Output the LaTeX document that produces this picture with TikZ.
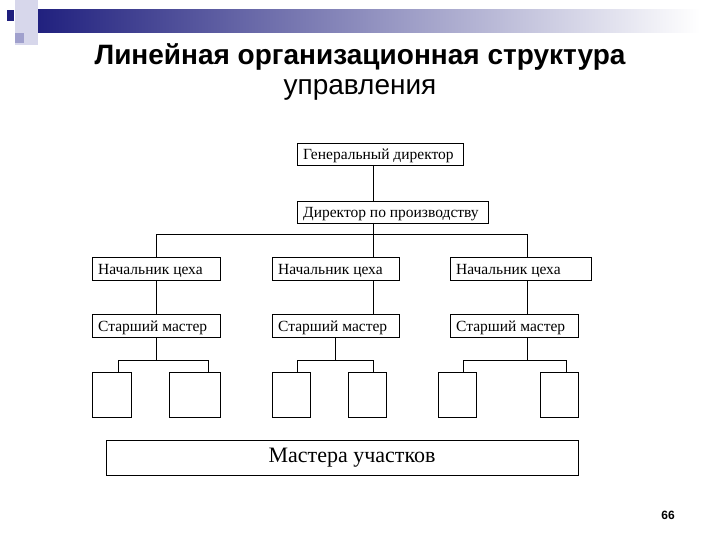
\documentclass[tikz,border=0pt]{standalone}
\usepackage{fontspec}
\setmainfont{Liberation Serif}
\newfontfamily\titlefont{Liberation Sans}
\definecolor{dkblue}{RGB}{30,30,125}
\definecolor{pale}{RGB}{215,215,235}
\definecolor{lav}{RGB}{160,160,205}
\begin{document}
\begin{tikzpicture}[x=1pt,y=-1pt,
  bx/.style={draw,line width=0.8pt},
  lbl/.style={anchor=west,font=\fontsize{15.5}{17}\selectfont,inner sep=0pt},
  ln/.style={line width=0.8pt}]
\useasboundingbox (0,0) rectangle (720,540);
\fill[white] (0,0) rectangle (720,540);
% decoration
\shade[left color=dkblue,right color=white] (30,10) rectangle (700,33);
\fill[pale] (15,0) rectangle (38,45);
\fill[lav] (15,33) rectangle (24,43);
\fill[dkblue] (7,10) rectangle (14,21);
% title
\node[font=\titlefont\bfseries\fontsize{28}{32}\selectfont] (t1) at (360,57) {Линейная организационная структура};
\node[font=\titlefont\fontsize{28}{32}\selectfont] (t2) at (360,90) {управления};
\node[font=\titlefont\bfseries\fontsize{12}{14}\selectfont] (pg) at (668,515) {66};
% boxes
\draw[bx] (297,143) rectangle (463,165); \node[lbl] (gt) at (303,156) {Генеральный директор};
\draw[bx] (297,201) rectangle (488,223); \node[lbl] (dt) at (303,214) {Директор по производству};
\foreach \a/\b/\n in {92/220/l,272/399/m,450/591/r}{
  \draw[bx] (\a,257) rectangle (\b,280); \node[lbl] (n\n) at (\a+6,271) {Начальник цеха};}
\foreach \a/\b/\n in {92/220/l,272/399/m,450/578/r}{
  \draw[bx] (\a,314) rectangle (\b,337); \node[lbl] (s\n) at (\a+6,328) {Старший мастер};}
\foreach \a/\b in {92/131,169/220,272/310,348/386,438/476,540/578}
  \draw[bx] (\a,372) rectangle (\b,417);
\draw[bx] (106,440) rectangle (578,475);
\node[font=\fontsize{22}{26}\selectfont] (mt) at (352,458) {Мастера участков};
% connectors
\draw[ln] (373,165) -- (373,201);
\draw[ln] (373,223) -- (373,257);
\draw[ln] (156,257) -- (156,234) -- (527,234) -- (527,257);
\foreach \x in {156,373,527} \draw[ln] (\x,280) -- (\x,314);
\draw[ln] (156,337) -- (156,360); \draw[ln] (118,372) -- (118,360) -- (208,360) -- (208,372);
\draw[ln] (335,337) -- (335,360); \draw[ln] (297,372) -- (297,360) -- (373,360) -- (373,372);
\draw[ln] (527,337) -- (527,360); \draw[ln] (463,372) -- (463,360) -- (566,360) -- (566,372);
\end{tikzpicture}
\end{document}
